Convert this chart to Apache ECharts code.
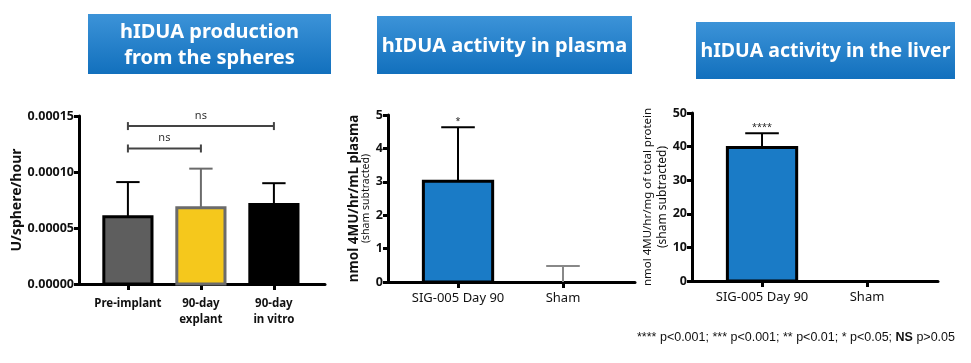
<!DOCTYPE html>
<html>
<head>
<meta charset="utf-8">
<script src="https://cdn.jsdelivr.net/npm/echarts@6/dist/echarts.min.js"></script>
<style>html,body{margin:0;padding:0;background:#fff;}#c{width:971px;height:363px;}</style>
</head>
<body>
<div id="c"></div>
<script>
// ---------- data ----------
const sphereCats = ['Pre-implant', '90-day\nexplant', '90-day\nin vitro'];
const sphereMean = [0.000060, 0.000068, 0.000071];
const sphereSD = [0.000031, 0.000035, 0.000019];
const sphereTicks = [0, 0.00005, 0.00010, 0.00015];
const sphereBrackets = [[1, 3, 'ns', 0.000141], [1, 2, 'ns', 0.000121]];

const plasmaCats = ['SIG-005 Day 90', 'Sham'];
const plasmaMean = [3.02, 0];
const plasmaSD = [1.61, 0.48];
const plasmaSig = ['*', ''];
const plasmaTicks = [0, 1, 2, 3, 4, 5];

const liverCats = ['SIG-005 Day 90', 'Sham'];
const liverMean = [39.7, 0];
const liverSD = [4.3, 0];
const liverSig = ['****', ''];
const liverTicks = [0, 10, 20, 30, 40, 50];

const titles = ['hIDUA production\nfrom the spheres', 'hIDUA activity in plasma', 'hIDUA activity in the liver'];
const footnote = '**** p<0.001; *** p<0.001; ** p<0.01; * p<0.05; ';

// ---------- styles ----------
const FONT = "'Noto Sans', 'DejaVu Sans', sans-serif";
const sphereFill = ['#5e5e5e', '#f5c81c', '#000000'];
const sphereBorder = ['#000000', '#6b6b6b', '#000000'];
const sphereErr = ['#000000', '#6b6b6b', '#000000'];
const blue = '#1a7bc6';

const chart = echarts.init(document.getElementById('c'), null, {renderer: 'canvas'});

function barItem(fills, borders) {
  return function (params, api) {
    const x = api.value(0), y = api.value(1);
    const p1 = api.coord([x - 0.33, y]);
    const p2 = api.coord([x + 0.33, 0]);
    const i = params.dataIndex;
    if (y <= 0) return null;
    return {
      type: 'rect',
      shape: {x: p1[0], y: p1[1], width: p2[0] - p1[0], height: p2[1] - p1[1]},
      style: {fill: fills[i], stroke: borders[i], lineWidth: 3}
    };
  };
}
function errItem(colors, sigs) {
  return function (params, api) {
    const x = api.value(0), y = api.value(1), sd = api.value(2);
    const i = params.dataIndex;
    const base = api.coord([x, y]);
    const top = api.coord([x, y + sd]);
    const half = api.size([0.16, 0])[0];
    const col = colors[i];
    const children = [];
    if (sd > 0) {
      children.push({type: 'line', shape: {x1: base[0], y1: base[1], x2: top[0], y2: top[1]}, style: {stroke: col, lineWidth: 2}});
      children.push({type: 'line', shape: {x1: top[0] - half, y1: top[1], x2: top[0] + half, y2: top[1]}, style: {stroke: col, lineWidth: 2}});
    }
    if (sigs && sigs[i]) {
      children.push({type: 'text', x: top[0], y: top[1] - 1, style: {text: sigs[i], fill: '#222', font: "9px " + FONT, align: 'center', verticalAlign: 'bottom'}});
    }
    return {type: 'group', children: children};
  };
}
function bracketItem(params, api) {
  const a = api.value(0), b = api.value(1), yv = api.value(2);
  const p1 = api.coord([a, yv]);
  const p2 = api.coord([b, yv]);
  const col = '#444';
  return {type: 'group', children: [
    {type: 'line', shape: {x1: p1[0], y1: p1[1], x2: p2[0], y2: p2[1]}, style: {stroke: col, lineWidth: 2}},
    {type: 'line', shape: {x1: p1[0], y1: p1[1] - 4, x2: p1[0], y2: p1[1] + 4}, style: {stroke: col, lineWidth: 2}},
    {type: 'line', shape: {x1: p2[0], y1: p2[1] - 4, x2: p2[0], y2: p2[1] + 4}, style: {stroke: col, lineWidth: 2}},
    {type: 'text', x: (p1[0] + p2[0]) / 2, y: p1[1] - 5, style: {text: sphereBrackets[params.dataIndex][2], fill: '#333', font: "11px " + FONT, align: 'center', verticalAlign: 'bottom'}}
  ]};
}

const axisLineStyle = {show: true, lineStyle: {color: '#000', width: 3}};
const tickStyle = {show: true, length: 5, lineStyle: {color: '#000', width: 3}};

function xAxisFor(gi, cats, min, max, labelStyle) {
  const vals = cats.map((c, i) => i + 1);
  return {
    type: 'value', gridIndex: gi, min: min, max: max,
    splitLine: {show: false},
    axisLine: axisLineStyle,
    axisTick: Object.assign({customValues: vals}, tickStyle, {length: 6}),
    axisLabel: Object.assign({customValues: vals, formatter: v => cats[Math.round(v) - 1] || '', margin: 10, color: '#111', fontFamily: FONT}, labelStyle)
  };
}
function yAxisFor(gi, ticks, name, nameGap, fmt, nameRich) {
  return {
    type: 'value', gridIndex: gi, min: ticks[0], max: ticks[ticks.length - 1], interval: ticks[1] - ticks[0],
    splitLine: {show: false},
    axisLine: axisLineStyle,
    axisTick: tickStyle,
    axisLabel: {formatter: fmt, color: '#111', fontFamily: FONT, fontSize: 12.5, fontWeight: 'bold', margin: 5},
    name: name, nameLocation: 'middle', nameRotate: 90, nameGap: nameGap,
    nameTextStyle: Object.assign({fontFamily: FONT, color: '#111'}, nameRich)
  };
}

function titleBox(x, y, w, h, text, fs, lh) {
  return {
    type: 'group', x: x, y: y, children: [
      {type: 'rect', shape: {x: 0, y: 0, width: w, height: h},
        style: {fill: new echarts.graphic.LinearGradient(0, 0, 0, 1, [{offset: 0, color: '#3c93d8'}, {offset: 1, color: '#1270bd'}])}},
      {type: 'text', x: w / 2, y: h / 2 + 1, style: {text: text, fill: '#fff', font: 'bold ' + fs + 'px ' + FONT, align: 'center', verticalAlign: 'middle', lineHeight: lh}}
    ]
  };
}

const option = {
  animation: false,
  backgroundColor: '#fff',
  grid: [
    {left: 79, right: 646, top: 116, bottom: 79},
    {left: 388, right: 336, top: 115, bottom: 81},
    {left: 692, right: 33, top: 113, bottom: 82}
  ],
  xAxis: [
    xAxisFor(0, sphereCats, 0.33, 3.7, {fontSize: 11.5, fontWeight: 'bold', lineHeight: 16, margin: 12}),
    xAxisFor(1, plasmaCats, 0.333, 2.686, {fontSize: 13}),
    xAxisFor(2, liverCats, 0.333, 2.676, {fontSize: 13})
  ],
  yAxis: [
    yAxisFor(0, sphereTicks, 'U/sphere/hour', 50, v => v.toFixed(5), {fontSize: 14, fontWeight: 'bold'}),
    yAxisFor(1, plasmaTicks, '{a|nmol 4MU/hr/mL plasma}\n{b|(sham subtracted)}', 15, v => v, {rich: {a: {fontSize: 13.5, fontWeight: 'bold', fontFamily: FONT, color: '#111', lineHeight: 13}, b: {fontSize: 10.5, fontFamily: FONT, color: '#111', lineHeight: 11}}}),
    yAxisFor(2, liverTicks, '{a|nmol 4MU/hr/mg of total protein}\n{b|(sham subtracted)}', 17, v => v, {rich: {a: {fontSize: 11.5, fontFamily: FONT, color: '#111', lineHeight: 15}, b: {fontSize: 12, fontFamily: FONT, color: '#111', lineHeight: 15}}})
  ],
  series: [
    {type: 'custom', xAxisIndex: 0, yAxisIndex: 0, renderItem: barItem(sphereFill, sphereBorder), data: sphereMean.map((m, i) => [i + 1, m]), z: 2},
    {type: 'custom', xAxisIndex: 0, yAxisIndex: 0, renderItem: errItem(sphereErr, null), data: sphereMean.map((m, i) => [i + 1, m, sphereSD[i]]), z: 3},
    {type: 'custom', xAxisIndex: 0, yAxisIndex: 0, renderItem: bracketItem, data: sphereBrackets.map(b => [b[0], b[1], b[3]]), z: 3},
    {type: 'custom', xAxisIndex: 1, yAxisIndex: 1, renderItem: barItem([blue, blue], ['#000', '#000']), data: plasmaMean.map((m, i) => [i + 1, m]), z: 2},
    {type: 'custom', xAxisIndex: 1, yAxisIndex: 1, renderItem: errItem(['#000', '#888'], plasmaSig), data: plasmaMean.map((m, i) => [i + 1, m, plasmaSD[i]]), z: 3},
    {type: 'custom', xAxisIndex: 2, yAxisIndex: 2, renderItem: barItem([blue, blue], ['#000', '#000']), data: liverMean.map((m, i) => [i + 1, m]), z: 2},
    {type: 'custom', xAxisIndex: 2, yAxisIndex: 2, renderItem: errItem(['#000', '#888'], liverSig), data: liverMean.map((m, i) => [i + 1, m, liverSD[i]]), z: 3}
  ],
  graphic: [
    titleBox(88, 14, 243, 60, titles[0], 20, 26),
    titleBox(377, 16, 255, 58, titles[1], 20, 24),
    titleBox(696, 22, 259, 57, titles[2], 19.5, 24),
    {type: 'text', x: 637, y: 338, style: {text: '{n|' + footnote + '}{b|NS}{n| p>0.05}', rich: {n: {font: "12.5px 'Liberation Sans', Arial, sans-serif", fill: '#111'}, b: {font: "bold 12.5px 'Liberation Sans', Arial, sans-serif", fill: '#111'}}, verticalAlign: 'middle'}}
  ]
};
chart.setOption(option);
</script>
</body>
</html>
